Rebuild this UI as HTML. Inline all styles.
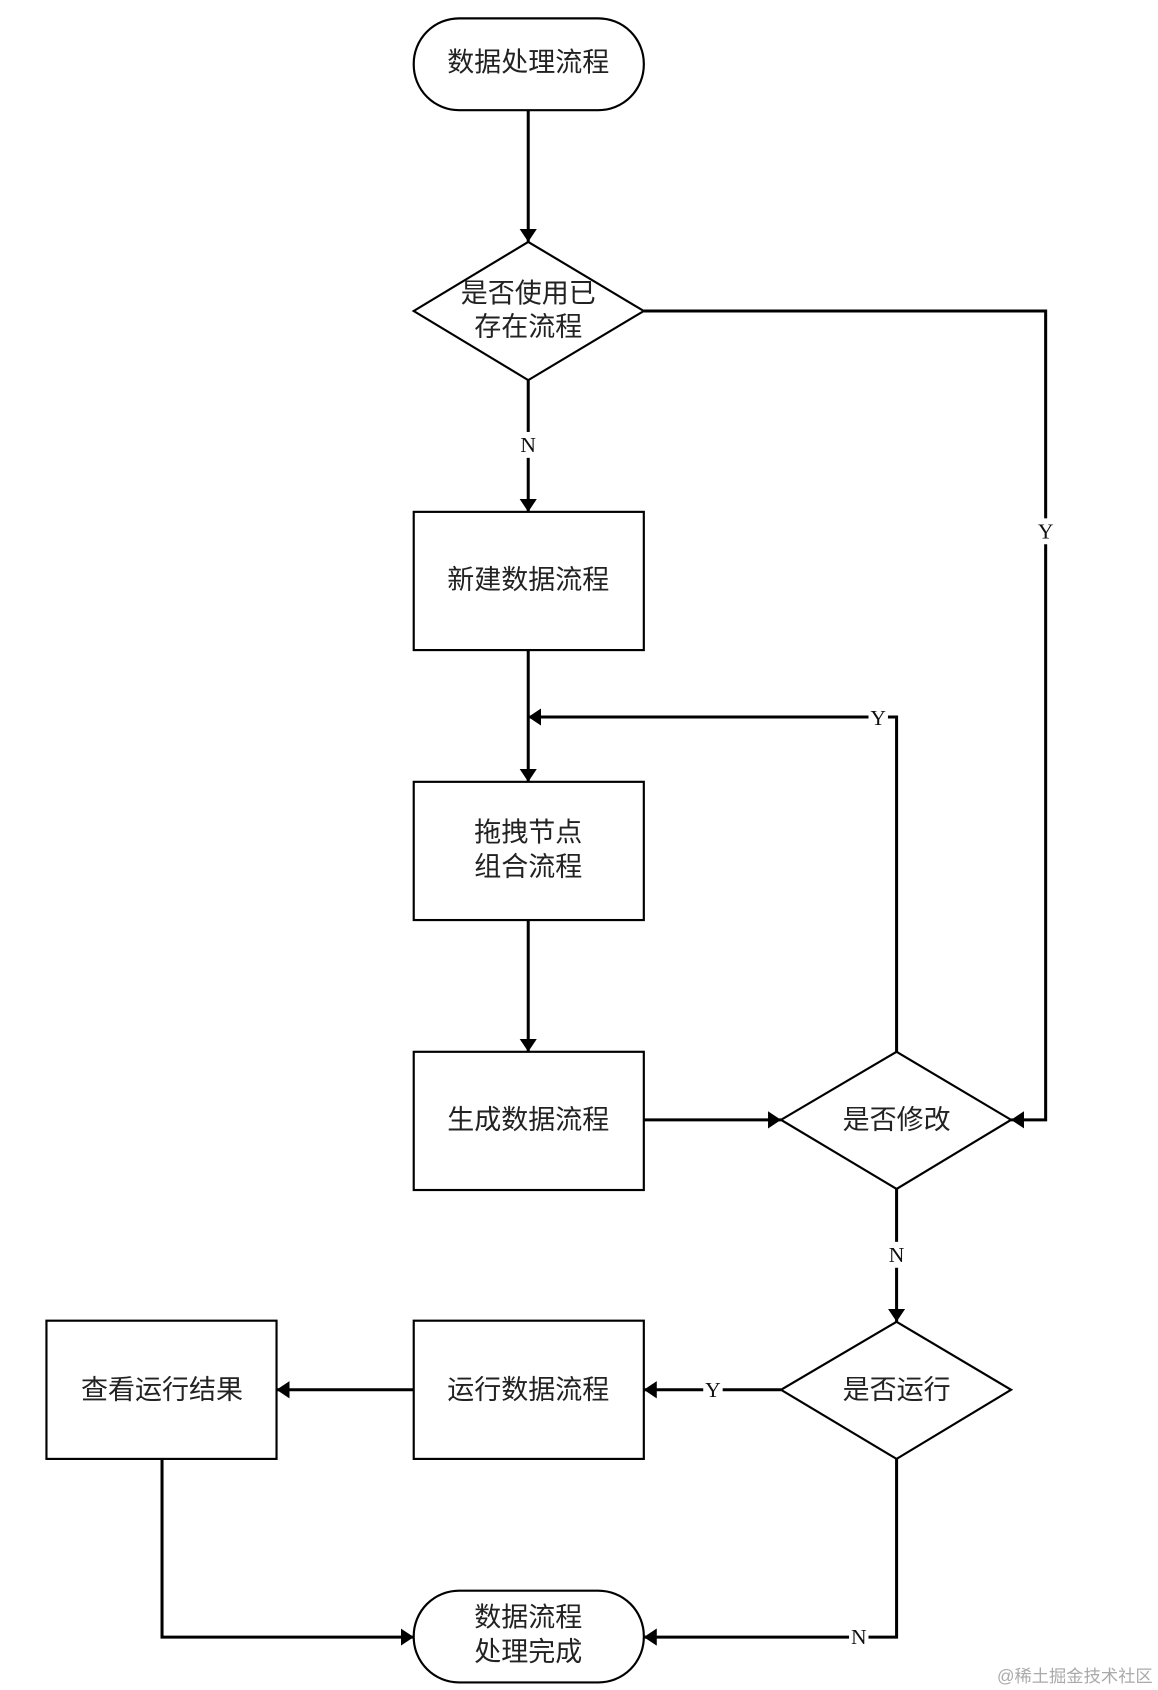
<!DOCTYPE html>
<html><head><meta charset="utf-8"><style>
html,body{margin:0;padding:0;background:#fff;}
svg{display:block;}
.t{font-family:"Liberation Sans","Noto Sans CJK SC",sans-serif;font-size:25px;fill:#222;text-anchor:middle;dominant-baseline:central;}
.l{font-family:"Liberation Serif",serif;font-size:20px;fill:#111;text-anchor:middle;dominant-baseline:central;}
</style></head><body>
<svg width="1158" height="1690" viewBox="0 0 1072 1565" preserveAspectRatio="none" xmlns="http://www.w3.org/2000/svg">
<defs>
<marker id="a" viewBox="0 0 12 16" refX="12" refY="8" markerWidth="12" markerHeight="16" markerUnits="userSpaceOnUse" orient="auto">
<path d="M0,0 L12,8 L0,16 Z" fill="#000"/></marker>
</defs>
<g fill="#fff" stroke="#000" stroke-width="2">
<rect x="383" y="17" width="213" height="85" rx="42"/>
<polygon points="489,224 596,288 489,352 383,288"/>
<rect x="383" y="474" width="213" height="128"/>
<rect x="383" y="724" width="213" height="128"/>
<rect x="383" y="974" width="213" height="128"/>
<polygon points="830,974 936,1037 830,1101 723,1037"/>
<polygon points="830,1224 936,1287 830,1351 723,1287"/>
<rect x="383" y="1223" width="213" height="128"/>
<rect x="43" y="1223" width="213" height="128"/>
<rect x="383" y="1473" width="213" height="85" rx="42"/>
</g>
<g fill="none" stroke="#000" stroke-width="2.8" marker-end="url(#a)">
<path d="M489,102 V224"/>
<path d="M489,352 V474"/>
<path d="M489,602 V724"/>
<path d="M830,974 V664 H489"/>
<path d="M489,852 V974"/>
<path d="M596,1037 H723"/>
<path d="M596,288 H968 V1037 H936"/>
<path d="M830,1101 V1224"/>
<path d="M723,1287 H596"/>
<path d="M383,1287 H256"/>
<path d="M150,1351 V1516 H383"/>
<path d="M830,1351 V1516 H596"/>
</g>
<g fill="#fff">
<rect x="480" y="400" width="18" height="24"/>
<rect x="959" y="480" width="18" height="24"/>
<rect x="804" y="653" width="18" height="24"/>
<rect x="821" y="1150" width="18" height="24"/>
<rect x="651" y="1275" width="18" height="24"/>
<rect x="786" y="1504" width="18" height="24"/>
</g>
<text class="l" x="489" y="412">N</text>
<text class="l" x="968" y="492">Y</text>
<text class="l" x="813" y="665">Y</text>
<text class="l" x="830" y="1162">N</text>
<text class="l" x="660" y="1287">Y</text>
<text class="l" x="795" y="1516">N</text>
<text class="t" x="489" y="58">数据处理流程</text>
<text class="t" x="489" y="272">是否使用已</text>
<text class="t" x="489" y="303">存在流程</text>
<text class="t" x="489" y="537">新建数据流程</text>
<text class="t" x="489" y="771">拖拽节点</text>
<text class="t" x="489" y="803">组合流程</text>
<text class="t" x="489" y="1037">生成数据流程</text>
<text class="t" x="830" y="1037">是否修改</text>
<text class="t" x="830" y="1287">是否运行</text>
<text class="t" x="489" y="1287">运行数据流程</text>
<text class="t" x="150" y="1287">查看运行结果</text>
<text class="t" x="489" y="1498">数据流程</text>
<text class="t" x="489" y="1530">处理完成</text>
<text x="995" y="1552" style="font-family:'Liberation Sans','Noto Sans CJK SC',sans-serif;font-size:16px;fill:#aaa;text-anchor:middle;dominant-baseline:central;">@稀土掘金技术社区</text>
</svg>
</body></html>
